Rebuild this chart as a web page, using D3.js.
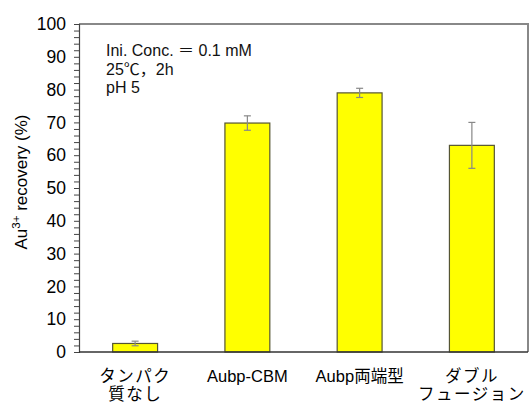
<!DOCTYPE html>
<html><head><meta charset="utf-8">
<script src="https://cdn.jsdelivr.net/npm/d3@7"></script>
<style>body{margin:0;background:#fff}svg{display:block}text{font-family:"Liberation Sans",Arial,"Noto Sans CJK JP",sans-serif}</style>
</head><body>
<script>
const categories = [["タンパク","質なし"],["Aubp-CBM"],["Aubp両端型"],["ダブル","フュージョン"]];
const values = [2.6, 69.8, 79.0, 63.0];
const errors = [0.7, 2.2, 1.4, 7.0];
const yTicks = [0,10,20,30,40,50,60,70,80,90,100];
const notes = ["Ini. Conc. ＝ 0.1 mM","25℃，2h","pH 5"];

const W=531,H=403, m={l:79,t:24,r:3,b:51};
const svg=d3.select("body").append("svg").attr("width",W).attr("height",H);
const x=d3.scaleBand().domain(d3.range(categories.length)).range([m.l,W-m.r]).paddingInner(0.6).paddingOuter(0.3);
const y=d3.scaleLinear().domain([0,100]).range([H-m.b,m.t]);

// frame top/right
svg.append("path").attr("d",`M${m.l},${m.t}H${W-m.r}V${H-m.b}`).attr("fill","none").attr("stroke","#888").attr("stroke-width",2);

// bars
svg.selectAll("rect.bar").data(values).join("rect").attr("class","bar")
 .attr("x",(d,i)=>x(i)).attr("width",x.bandwidth())
 .attr("y",d=>y(d)).attr("height",d=>y(0)-y(d))
 .attr("fill","#ffff00").attr("stroke","#555533").attr("stroke-width",1.2);

// error bars
const eg=svg.append("g").attr("stroke","#888").attr("stroke-width",1.2);
values.forEach((v,i)=>{
  const cx=x(i)+x.bandwidth()/2;
  eg.append("line").attr("x1",cx).attr("x2",cx).attr("y1",y(v+errors[i])).attr("y2",y(v-errors[i]));
  [v+errors[i],v-errors[i]].forEach(e=>eg.append("line").attr("x1",cx-3.5).attr("x2",cx+3.5).attr("y1",y(e)).attr("y2",y(e)));
});

// y axis
const ya=svg.append("g").attr("transform",`translate(${m.l},0)`)
 .call(d3.axisLeft(y).tickValues(d3.range(0,101,2)).tickSize(5).tickFormat(d=>yTicks.includes(d)?d:""));
ya.select(".domain").attr("stroke","#444").attr("stroke-width",1.2);
ya.selectAll(".tick line").attr("stroke","#444");
ya.selectAll(".tick text").attr("font-size",17.5).attr("fill","#000").attr("x",-13).attr("font-family",'"Liberation Sans",Arial,sans-serif');

// x axis line
svg.append("line").attr("x1",m.l).attr("x2",W-m.r).attr("y1",y(0)).attr("y2",y(0)).attr("stroke","#333").attr("stroke-width",1.5);

// x labels
categories.forEach((c,i)=>{
  const t=svg.append("text").attr("x",x(i)+x.bandwidth()/2).attr("y",382).attr("text-anchor","middle").attr("font-size",16.5);
  c.forEach((s,j)=>t.append("tspan").attr("x",x(i)+x.bandwidth()/2).attr("dy",j?18:0)
    .attr("letter-spacing",/[\u3040-\u9fff]/.test(s)&&!/Aubp/.test(s)?1.5:0).text(s));
});

// y label
const yl=svg.append("text").attr("transform",`translate(27,${(m.t+H-m.b)/2-6}) rotate(-90)`).attr("text-anchor","middle").attr("font-size",17);
yl.append("tspan").text("Au");
yl.append("tspan").attr("font-size",11.5).attr("dy",-7).text("3+");
yl.append("tspan").attr("dy",7).text(" recovery (%)");

// notes
const ny=[56,75,93];
notes.forEach((n,i)=>svg.append("text").attr("x",106).attr("y",ny[i]).attr("font-size",16).attr("fill","#111").text(n));
</script>
</body></html>
